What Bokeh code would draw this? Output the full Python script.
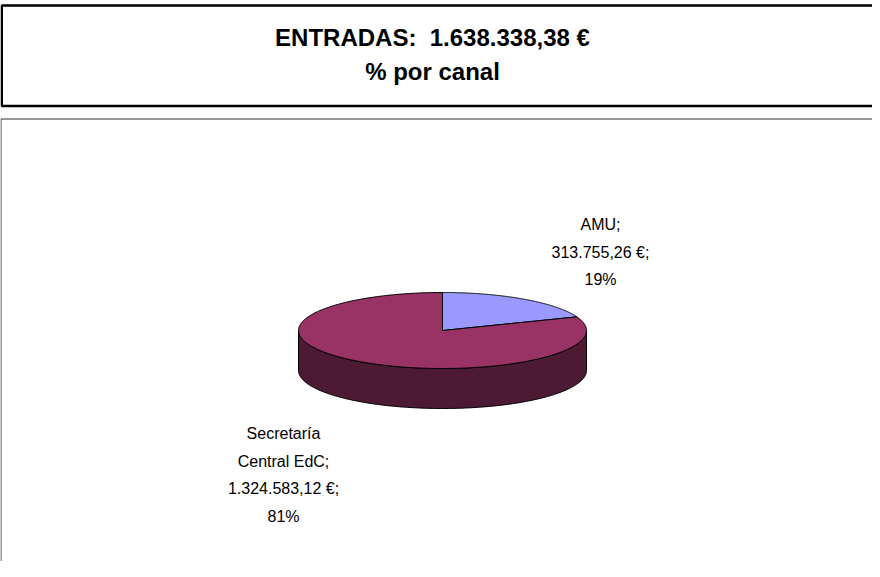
import numpy as np
from bokeh.plotting import figure
from bokeh.models import Range1d
from bokeh.core.properties import value
from bokeh.embed import file_html
from bokeh.resources import INLINE

# ---------------- data ----------------
categories = ["AMU", "Secretaría Central EdC"]
label_names = [["AMU;"], ["Secretaría", "Central EdC;"]]
amounts = [313755.26, 1324583.12]
top_colors = ["#9999FF", "#993366"]
side_colors = ["#4D4D80", "#4D1A33"]
title_prefix = "ENTRADAS:"
subtitle = "% por canal"


def fmt_eur(v):
    s = f"{v:,.2f}"
    return s.replace(",", "X").replace(".", ",").replace("X", ".") + " €"


total = sum(amounts)
fractions = [a / total for a in amounts]

# ---------------- layout ----------------
W, H = 872, 561
FONT = "Liberation Sans"

p = figure(width=W, height=H, x_range=Range1d(0, W), y_range=Range1d(H, 0),
           output_backend="svg", toolbar_location=None, min_border=0,
           background_fill_color="white", border_fill_color="white")
p.axis.visible = False
p.grid.visible = False
p.outline_line_color = None

# title box and chart area box
p.quad(left=1.25, right=W + 20, top=5, bottom=105.5, fill_color=None,
       line_color="black", line_width=2.5)
p.quad(left=0.5, right=W + 20, top=118.5, bottom=H + 20, fill_color=None,
       line_color="#303030", line_width=1)

p.text(x=[432, 432], y=[37, 71],
       text=[f"{title_prefix}\u00a0 {fmt_eur(total)}", subtitle],
       text_font=value(FONT), text_font_style="bold", text_font_size="24px",
       text_align="center", text_baseline="middle", text_color="black")

# ---------------- 3D pie ----------------
cx, cy, rx, ry, depth = 442, 330, 144, 38, 40

cum = np.concatenate([[0.0], np.cumsum(fractions)])
starts = 90 - 360 * cum[:-1]
ends = 90 - 360 * cum[1:]


def ell(theta_deg, dy=0.0):
    t = np.radians(theta_deg)
    return cx + rx * np.cos(t), cy - ry * np.sin(t) + dy


# sides (front half of the ellipse: angles where sin < 0)
for a0, a1, sc in zip(starts, ends, side_colors):
    for k in (-720, -360, 0, 360):
        lo = max(a1, -180 + k)
        hi = min(a0, 0 + k)
        if lo < hi:
            t = np.linspace(hi, lo, 200)
            xt, yt = ell(t)
            xb, yb = ell(t[::-1], depth)
            p.patch(np.concatenate([xt, xb]), np.concatenate([yt, yb]),
                    fill_color=sc, line_color="black", line_width=1)

# top faces
for a0, a1, c in zip(starts, ends, top_colors):
    t = np.linspace(a0, a1, 300)
    xs, ys = ell(t)
    p.patch(np.concatenate([[cx], xs]), np.concatenate([[cy], ys]),
            fill_color=c, line_color="black", line_width=1)

# ---------------- data labels ----------------
label_anchor = [(600, 224), (283, 433)]
line_step = 27.5
for names, amt, frac, (lx, ly) in zip(label_names, amounts, fractions, label_anchor):
    lines = names + [fmt_eur(amt) + ";", f"{round(frac * 100)}%"]
    p.text(x=[lx] * len(lines), y=[ly + i * line_step for i in range(len(lines))],
           text=lines, text_font=value(FONT), text_font_size="16px",
           text_align="center", text_baseline="middle", text_color="black")

open("out.html", "w").write(file_html(p, INLINE))
